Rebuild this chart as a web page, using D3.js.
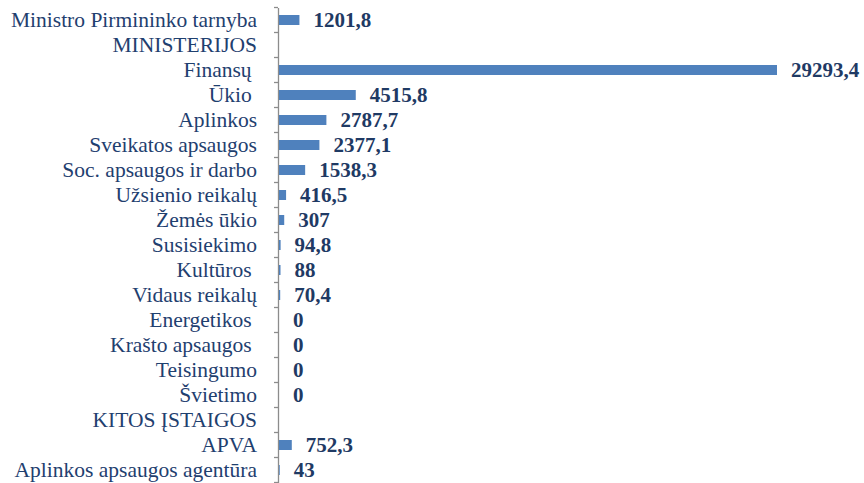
<!DOCTYPE html>
<meta charset="utf-8">
<style>
body { margin: 0; background: #fff; }
.cat { font-family: "Liberation Serif", "Times New Roman", serif; font-size: 21.5px; fill: #1f406f; white-space: pre; }
.val { font-family: "Liberation Serif", "Times New Roman", serif; font-size: 21px; font-weight: bold; fill: #1f3a64; }
.bar { fill: #4f81bd; }
.axis path, .axis line { stroke: #8c8c8c; stroke-width: 1.3; }
</style>
<body>
<svg width="864" height="483"></svg>
<script src="https://d3js.org/d3.v7.min.js"></script>
<script>
// categories top to bottom (trailing spaces are in the original labels)
var categories = [
  "Ministro Pirmininko tarnyba", "MINISTERIJOS", "Finansų ", "Ūkio ", "Aplinkos",
  "Sveikatos apsaugos", "Soc. apsaugos ir darbo", "Užsienio reikalų", "Žemės ūkio",
  "Susisiekimo", "Kultūros ", "Vidaus reikalų", "Energetikos ", "Krašto apsaugos ",
  "Teisingumo", "Švietimo", "KITOS ĮSTAIGOS", "APVA", "Aplinkos apsaugos agentūra"
];
// null = heading row without a bar
var values = [
  1201.8, null, 29293.4, 4515.8, 2787.7,
  2377.1, 1538.3, 416.5, 307,
  94.8, 88, 70.4, 0, 0,
  0, 0, null, 752.3, 43
];
var labels = [
  "1201,8", "", "29293,4", "4515,8", "2787,7",
  "2377,1", "1538,3", "416,5", "307",
  "94,8", "88", "70,4", "0", "0",
  "0", "0", "", "752,3", "43"
];

var svg = d3.select("svg"),
    x0 = 278;

var y = d3.scaleBand().domain(d3.range(categories.length)).range([7.5, 482.5]);
var x = d3.scaleLinear().domain([0, 29293.4]).range([x0 + 1, 777]);

var axis = svg.append("g")
    .attr("class", "axis")
    .attr("transform", "translate(" + x0 + ",0)")
    .call(d3.axisLeft(y).tickValues([]).tickSizeOuter(0));
// tick marks between categories
axis.selectAll(".sep")
  .data(d3.range(categories.length + 1))
  .enter().append("line")
    .attr("x1", -4).attr("x2", 0)
    .attr("y1", function(i) { return 7.5 + i * y.step(); })
    .attr("y2", function(i) { return 7.5 + i * y.step(); });

svg.selectAll(".cat")
  .data(categories)
  .enter().append("text")
    .attr("class", "cat")
    .attr("x", 257)
    .attr("y", function(d, i) { return y(i) + y.bandwidth() / 2; })
    .attr("dy", "0.33em")
    .attr("text-anchor", "end")
    .text(function(d) { return d; });

var data = values.map(function(v, i) { return {i: i, v: v, l: labels[i]}; })
    .filter(function(d) { return d.v !== null; });

svg.selectAll(".bar")
  .data(data)
  .enter().append("rect")
    .attr("class", "bar")
    .attr("x", x(0))
    .attr("y", function(d) { return y(d.i) + y.bandwidth() / 2 - 5; })
    .attr("width", function(d) { return x(d.v) - x(0); })
    .attr("height", 10);

svg.selectAll(".val")
  .data(data)
  .enter().append("text")
    .attr("class", "val")
    .attr("x", function(d) { return x(d.v) + 14; })
    .attr("y", function(d) { return y(d.i) + y.bandwidth() / 2; })
    .attr("dy", "0.33em")
    .text(function(d) { return d.l; });
</script>
</body>
